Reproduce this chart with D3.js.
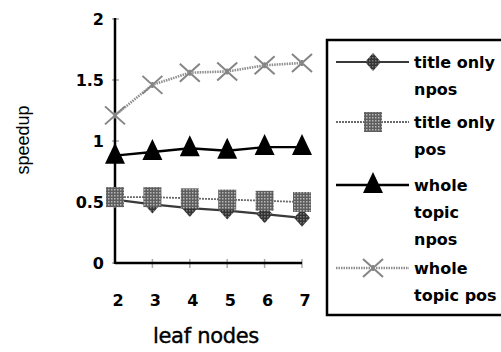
<!DOCTYPE html>
<html>
<head>
<meta charset="utf-8">
<script src="https://cdn.jsdelivr.net/npm/d3@7"></script>
<style>
  body { margin: 0; background: #fff; }
  svg { display: block; }
  .tick-lbl { font-family: "DejaVu Sans", sans-serif; font-weight: bold; font-size: 16px; }
  .leg-lbl { font-family: "DejaVu Sans", sans-serif; font-weight: bold; font-size: 16px; }
</style>
</head>
<body>
<svg id="chart" width="501" height="352"></svg>
<script>
// data
var leafNodes = [2, 3, 4, 5, 6, 7];
var titleOnlyNpos = [0.52, 0.48, 0.45, 0.43, 0.40, 0.37];
var titleOnlyPos = [0.54, 0.54, 0.53, 0.52, 0.51, 0.50];
var wholeTopicNpos = [0.88, 0.91, 0.94, 0.92, 0.95, 0.95];
var wholeTopicPos = [1.21, 1.46, 1.56, 1.57, 1.62, 1.64];
var yTicks = [0, 0.5, 1, 1.5, 2];
var yTickLabels = ["0", "0.5", "1", "1.5", "2"];

var series = [
  { name: ["title only", "npos"], values: titleOnlyNpos, stroke: "#3a3a3a", width: 2.2, dash: null, marker: "diamond" },
  { name: ["title only", "pos"], values: titleOnlyPos, stroke: "#6a6a6a", width: 1.8, dash: "2,1", marker: "square" },
  { name: ["whole", "topic", "npos"], values: wholeTopicNpos, stroke: "#000", width: 2.4, dash: null, marker: "triangle" },
  { name: ["whole", "topic pos"], values: wholeTopicPos, stroke: "#8e8e8e", width: 2.6, dash: "1.5,1", marker: "cross" }
];

var svg = d3.select("#chart");
var margin = { left: 115, right: 199, top: 19, bottom: 89 };
var width = +svg.attr("width"), height = +svg.attr("height");

var x = d3.scalePoint().domain(leafNodes).range([margin.left, width - margin.right]);
var y = d3.scaleLinear().domain([0, 2]).range([height - margin.bottom, margin.top]);

// marker textures
var defs = svg.append("defs");
var p1 = defs.append("pattern").attr("id", "dotDark").attr("width", 3).attr("height", 3).attr("patternUnits", "userSpaceOnUse");
p1.append("rect").attr("width", 3).attr("height", 3).attr("fill", "#333");
p1.append("rect").attr("width", 1.5).attr("height", 1.5).attr("fill", "#7a7a7a");
var p2 = defs.append("pattern").attr("id", "dotGray").attr("width", 3).attr("height", 3).attr("patternUnits", "userSpaceOnUse");
p2.append("rect").attr("width", 3).attr("height", 3).attr("fill", "#5e5e5e");
p2.append("rect").attr("width", 1.5).attr("height", 1.5).attr("fill", "#b8b8b8");

function drawMarker(g, type, cx, cy) {
  if (type === "diamond") {
    g.append("path").attr("d", `M${cx},${cy - 9}L${cx + 8},${cy}L${cx},${cy + 9}L${cx - 8},${cy}Z`)
      .attr("fill", "url(#dotDark)");
  } else if (type === "square") {
    g.append("rect").attr("x", cx - 9).attr("y", cy - 10).attr("width", 18).attr("height", 20)
      .attr("fill", "url(#dotGray)");
  } else if (type === "triangle") {
    g.append("path").attr("d", `M${cx},${cy - 13}L${cx + 10},${cy + 8}L${cx - 10},${cy + 8}Z`)
      .attr("fill", "#000");
  } else if (type === "cross") {
    g.append("path").attr("d", `M${cx - 10},${cy - 9}L${cx + 10},${cy + 9}M${cx + 10},${cy - 9}L${cx - 10},${cy + 9}M${cx},${cy - 3}L${cx},${cy + 3}`)
      .attr("stroke", "#858585").attr("stroke-width", 2).attr("fill", "none");
  }
}

// faint tick marks
svg.append("g")
  .selectAll("line")
  .data(yTicks)
  .enter()
  .append("line")
  .attr("x1", margin.left - 3).attr("x2", margin.left + 4)
  .attr("y1", d => y(d)).attr("y2", d => y(d))
  .attr("stroke", "#aaa").attr("stroke-width", 1.5);
svg.append("g")
  .selectAll("line")
  .data(leafNodes.slice(1))
  .enter()
  .append("line")
  .attr("x1", d => x(d)).attr("x2", d => x(d))
  .attr("y1", y(0) - 4).attr("y2", y(0) + 5)
  .attr("stroke", "#aaa").attr("stroke-width", 1.5);

// axes
svg.append("line")
  .attr("x1", margin.left).attr("x2", margin.left)
  .attr("y1", y(2) - 1).attr("y2", y(0) + 1)
  .attr("stroke", "#000").attr("stroke-width", 2.5);
svg.append("line")
  .attr("x1", margin.left).attr("x2", x(7))
  .attr("y1", y(0)).attr("y2", y(0))
  .attr("stroke", "#000").attr("stroke-width", 2.5);

svg.append("g")
  .selectAll("text")
  .data(yTicks)
  .enter()
  .append("text")
  .attr("class", "tick-lbl")
  .attr("x", margin.left - 11)
  .attr("y", d => y(d) + 6)
  .attr("text-anchor", "end")
  .text((d, i) => yTickLabels[i]);

svg.append("g")
  .selectAll("text")
  .data(leafNodes)
  .enter()
  .append("text")
  .attr("class", "tick-lbl")
  .attr("x", d => x(d) + 3)
  .attr("y", 306)
  .attr("text-anchor", "middle")
  .text(d => d);

// axis titles
svg.append("text")
  .attr("transform", "translate(29,140) rotate(-90)")
  .attr("text-anchor", "middle")
  .style("font-family", "'Liberation Sans', Arial, sans-serif")
  .style("font-size", "18px")
  .text("speedup");

svg.append("text")
  .attr("x", 206)
  .attr("y", 343)
  .attr("text-anchor", "middle")
  .style("font-family", "'DejaVu Sans', sans-serif")
  .style("font-size", "21px")
  .style("letter-spacing", "-0.3px")
  .attr("stroke", "#000").attr("stroke-width", 0.4)
  .text("leaf nodes");

// lines and markers
var line = d3.line()
  .x((d, i) => x(leafNodes[i]))
  .y(d => y(d));

series.forEach(s => {
  var g = svg.append("g");
  g.append("path")
    .datum(s.values)
    .attr("fill", "none")
    .attr("stroke", s.stroke)
    .attr("stroke-width", s.width)
    .attr("stroke-dasharray", s.dash)
    .attr("d", line);
  s.values.forEach((v, i) => drawMarker(g, s.marker, x(leafNodes[i]), y(v)));
});

// legend
var leg = svg.append("g");
leg.append("rect")
  .attr("x", 327).attr("y", 40)
  .attr("width", 180).attr("height", 275)
  .attr("fill", "none").attr("stroke", "#000").attr("stroke-width", 2.5);

var legendRows = [62, 122, 185, 268];
var lineGap = 27;
series.forEach((s, k) => {
  var ly = legendRows[k];
  leg.append("line")
    .attr("x1", 336).attr("x2", 409)
    .attr("y1", ly).attr("y2", ly)
    .attr("stroke", s.stroke).attr("stroke-width", s.width)
    .attr("stroke-dasharray", s.dash);
  drawMarker(leg, s.marker, 373, ly);
  s.name.forEach((t, j) => {
    leg.append("text")
      .attr("class", "leg-lbl")
      .attr("x", 414)
      .attr("y", ly + 6 + j * lineGap)
      .text(t);
  });
});
</script>
</body>
</html>
